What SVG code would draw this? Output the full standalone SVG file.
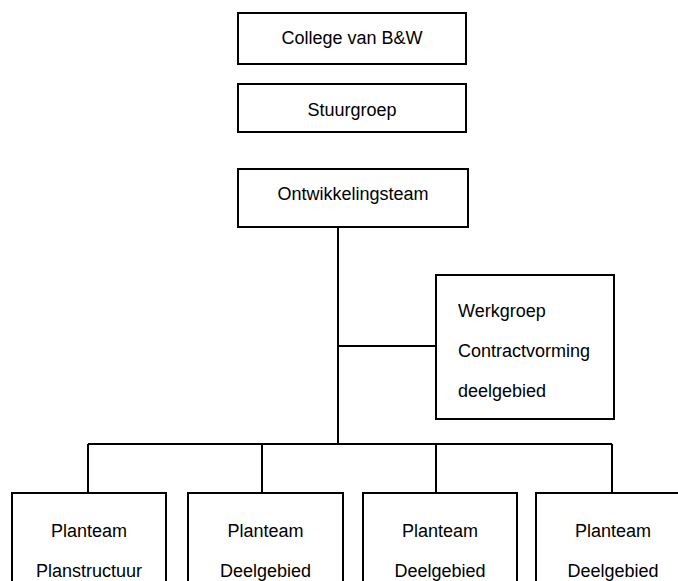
<svg xmlns="http://www.w3.org/2000/svg" width="678" height="581" viewBox="0 0 678 581">
  <style>
    .box { fill: #ffffff; stroke: #000000; stroke-width: 2; }
    .line { fill: none; stroke: #000000; stroke-width: 2; }
    text { font-family: "Liberation Sans", Arial, sans-serif; font-size: 18px; fill: #000000; }
    .c { text-anchor: middle; }
  </style>
  <rect width="678" height="581" fill="#ffffff"/>

  <!-- connectors -->
  <g id="connectors">
    <path class="line" d="M338 227 V444"/>
    <path class="line" d="M338 346 H436"/>
    <path class="line" d="M88 444 H612"/>
    <path class="line" d="M88 444 V493"/>
    <path class="line" d="M262 444 V493"/>
    <path class="line" d="M436 444 V493"/>
    <path class="line" d="M612 444 V493"/>
  </g>

  <g id="college">
    <rect class="box" x="238" y="13" width="228" height="51"/>
    <text class="c" x="352" y="44">College van B&amp;W</text>
  </g>

  <g id="stuurgroep">
    <rect class="box" x="238" y="84" width="228" height="48"/>
    <text class="c" x="352" y="116">Stuurgroep</text>
  </g>

  <g id="ontwikkelingsteam">
    <rect class="box" x="238" y="169" width="230" height="58"/>
    <text class="c" x="353" y="200">Ontwikkelingsteam</text>
  </g>

  <g id="werkgroep">
    <rect class="box" x="436" y="275" width="178" height="144"/>
    <text x="458" y="317">Werkgroep</text>
    <text x="458" y="357">Contractvorming</text>
    <text x="458" y="397">deelgebied</text>
  </g>

  <g id="planteam-planstructuur">
    <rect class="box" x="12" y="493" width="154" height="120"/>
    <text class="c" x="89" y="537">Planteam</text>
    <text class="c" x="89" y="577">Planstructuur</text>
  </g>

  <g id="planteam-deelgebied-1">
    <rect class="box" x="188" y="493" width="155" height="120"/>
    <text class="c" x="265.5" y="537">Planteam</text>
    <text class="c" x="265.5" y="577">Deelgebied</text>
  </g>

  <g id="planteam-deelgebied-2">
    <rect class="box" x="363" y="493" width="154" height="120"/>
    <text class="c" x="440" y="537">Planteam</text>
    <text class="c" x="440" y="577">Deelgebied</text>
  </g>

  <g id="planteam-deelgebied-3">
    <rect class="box" x="536" y="493" width="154" height="120"/>
    <text class="c" x="613" y="537">Planteam</text>
    <text class="c" x="613" y="577">Deelgebied</text>
  </g>
</svg>
